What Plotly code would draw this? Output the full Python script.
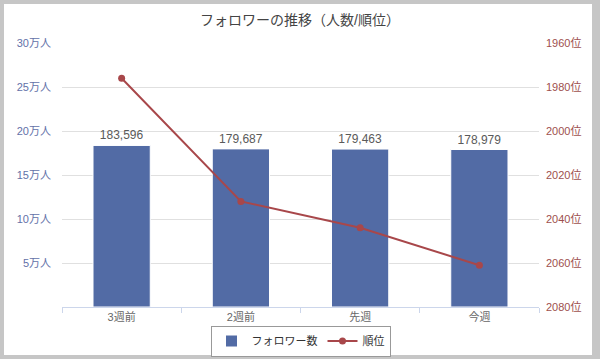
import plotly.graph_objects as go

categories = ["3週前", "2週前", "先週", "今週"]
followers = [183596, 179687, 179463, 178979]
ranks = [1976, 2032, 2044, 2061]

left_tickvals = [50000, 100000, 150000, 200000, 250000, 300000]
left_ticktext = ["5万人", "10万人", "15万人", "20万人", "25万人", "30万人"]
right_tickvals = [1960, 1980, 2000, 2020, 2040, 2060, 2080]
right_ticktext = [f"{v}位" for v in right_tickvals]

W, H = 600, 359
ML, MR, MT, MB = 62, 61, 43, 52
BAR_C = "#526ba5"
LINE_C = "#a8474a"
FONT = "Liberation Sans, Noto Sans CJK JP, sans-serif"

fig = go.Figure()
fig.add_trace(go.Bar(
    x=categories, y=followers, name="フォロワー数",
    marker=dict(color=BAR_C, line=dict(color="#ffffff", width=1)),
    width=0.48,
    text=[f"{v:,}" for v in followers], textposition="outside",
    textfont=dict(size=12, color="#5a5a5a", family=FONT),
    cliponaxis=False,
))
fig.add_trace(go.Scatter(
    x=categories, y=ranks, name="順位", yaxis="y2",
    mode="lines+markers",
    line=dict(color=LINE_C, width=2),
    marker=dict(color=LINE_C, size=7),
))

pw = W - ML - MR
ph = H - MT - MB
card = dict(type="rect", xref="paper", yref="paper", layer="below",
            x0=(4 - ML) / pw, x1=(592 - ML) / pw,
            y0=(H - MB - 355) / ph, y1=(H - MB - 4) / ph,
            fillcolor="#ffffff", line=dict(width=0))

fig.update_layout(
    width=W, height=H,
    margin=dict(l=ML, r=MR, t=MT, b=MB, autoexpand=False),
    paper_bgcolor="#c6c6c6",
    plot_bgcolor="rgba(0,0,0,0)",
    font=dict(family=FONT, size=11, color="#666666"),
    shapes=[card],
    title=dict(text="フォロワーの推移（人数/順位）", x=0.5, xanchor="center",
               y=1 - 20 / H, yanchor="middle",
               font=dict(size=14, color="#444444", family=FONT)),
    showlegend=True,
    legend=dict(orientation="h", x=0.5, xanchor="center",
                y=(H - MB - 341) / ph, yanchor="middle",
                bordercolor="#999999", borderwidth=1, bgcolor="#ffffff",
                font=dict(size=11, color="#333333", family=FONT),
                itemwidth=30, tracegroupgap=0),
    xaxis=dict(
        showgrid=False, showline=True, linecolor="#ccd6eb", linewidth=1,
        ticks="outside", tickson="boundaries", ticklen=5, tickcolor="#ccd6eb",
        tickfont=dict(size=11, color="#666666"),
        automargin=False,
    ),
    yaxis=dict(
        range=[0, 300000], tickvals=left_tickvals, ticktext=left_ticktext,
        showgrid=True, gridcolor="#e0e0e0", gridwidth=1,
        zeroline=False, showline=False,
        tickfont=dict(size=11, color="#6371a8"),
        ticklabelstandoff=10, automargin=False,
    ),
    yaxis2=dict(
        overlaying="y", side="right", range=[2080, 1960],
        tickvals=right_tickvals, ticktext=right_ticktext,
        showgrid=False, zeroline=False, showline=False,
        tickfont=dict(size=11, color="#9e4f4d"),
        ticklabelstandoff=6, automargin=False,
    ),
)

fig.write_html(
    "out.html",
    config={"displayModeBar": False},
    post_script="document.body.style.margin='0';document.body.style.overflow='hidden';",
)
